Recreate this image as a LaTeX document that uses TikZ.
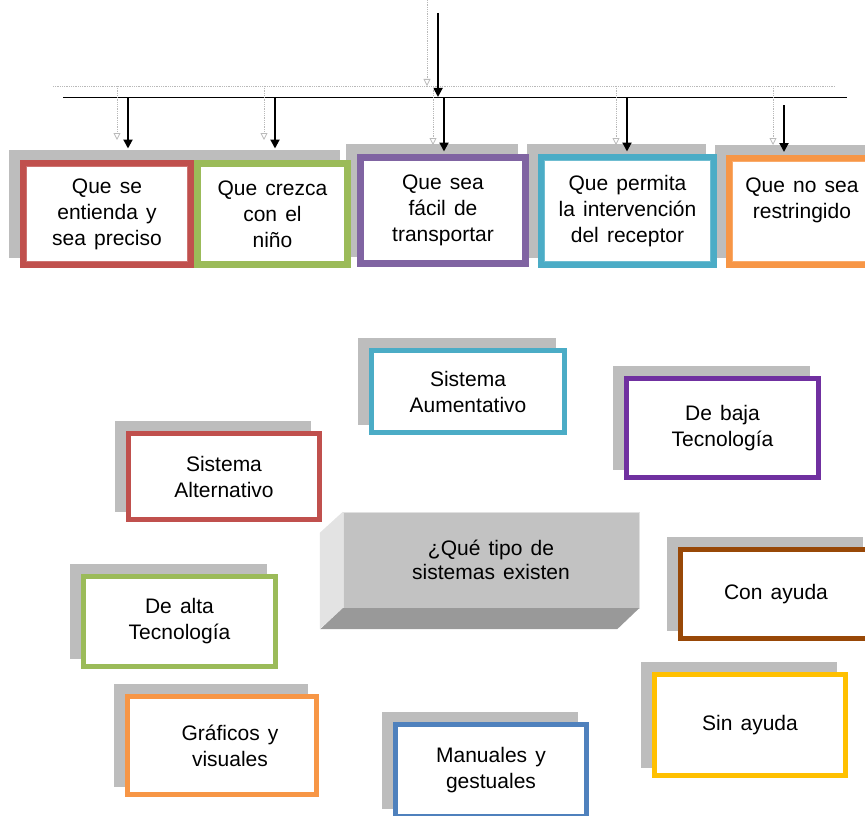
\documentclass[tikz,border=0pt]{standalone}
\usepackage{fontspec}
\setmainfont[WordSpace=1.4]{Liberation Sans}
\usetikzlibrary{arrows.meta,shadows}

\definecolor{rojo}{HTML}{C0504D}
\definecolor{verde}{HTML}{9BBB59}
\definecolor{lila}{HTML}{8064A2}
\definecolor{turquesa}{HTML}{4BACC6}
\definecolor{naranja}{HTML}{F79646}
\definecolor{morado}{HTML}{7030A0}
\definecolor{cafe}{HTML}{984807}
\definecolor{amarillo}{HTML}{FFC000}
\definecolor{azul}{HTML}{4F81BD}
\definecolor{sombra}{HTML}{BDBDBD}

\begin{document}
\begin{tikzpicture}[x = 1pt, y = -1pt, >={Triangle[length=9pt, width=9pt]},
    caja/.style = {draw = #1, fill = white, line width = 5pt, inner sep = 0pt, align = center,
        font = \fontsize{21}{26}\selectfont,
        general shadow = {shadow xshift = -11pt, shadow yshift = 10pt, fill = sombra, draw = sombra}},
    cajasup/.style = {caja = #1, line width = 7pt},
    tam/.style 2 args = {minimum width = #1pt, minimum height = #2pt},
    flecha/.style = {->, line width = 2pt},
    fantasma/.style = {-{Triangle[open, length=7pt, width=7pt]}, gray!55, densely dotted, line width = 0.8pt}]

    % Marco de la figura.
    \useasboundingbox (0, 0) rectangle (865, 816);

    % Línea de reparto y su sombra punteada.
    \coordinate (gl) at (53, 86);
    \coordinate (gr) at (835, 86);
    \coordinate (hl) at (63, 97);
    \coordinate (hr) at (847, 97);
    \draw[gray!55, densely dotted, line width = 0.8pt] (gl) -- (gr);
    \draw[line width = 0.8pt] (hl) -- (hr);

    % Flecha de entrada.
    \coordinate (arriba) at (438, 13);
    \draw[fantasma] (427, 0) -- (427, 86);
    \draw[flecha] (arriba) -- (arriba |- hl);

    % Cajas de arriba: cualidades (de derecha a izquierda, para que cada sombra quede detrás).
    \node[cajasup = naranja, tam = {145}{106}] (t5) at (802, 211.5) {Que no sea\\restringido\\\mbox{}};
    \node[cajasup = turquesa, tam = {172}{107}] (t4) at (627.5, 211) {Que permita\\la intervención\\del receptor};
    \node[cajasup = lila, tam = {165}{106}] (t3) at (443, 210.5) {Que sea\\fácil de\\transportar};
    \node[cajasup = verde, tam = {150}{101}] (t2) at (272.5, 214) {Que crezca\\con el\\niño};
    \node[cajasup = rojo, tam = {167}{101}] (t1) at (107, 214) {Que se\\entienda y\\sea preciso};

    % Filete interior de algunas cajas.
    \foreach \n/\c in {t1/rojo, t4/turquesa, t5/naranja}
        \draw[\c!80, line width = 0.8pt] ([shift = {(6.5, 6.5)}]\n.north west) rectangle ([shift = {(-6.5, -6.5)}]\n.south east);

    % Flechas hacia las cajas (y sus sombras).
    \foreach \x/\y in {117/140, 264/140, 433/145, 616/145, 773/145}
        \draw[fantasma] (\x, 86) -- (\x, \y);
    \foreach \n/\x/\y/\s in {t1/128/97/11.5pt, t2/275/97/11.5pt, t3/444/97/2.5pt, t4/627/97/2.5pt, t5/784/105/3pt} {
        \coordinate (a\n) at (\x, \y);
        \draw[flecha, shorten > = \s] (a\n) -- (a\n |- \n.north);
    }

    % Pregunta central en forma de bloque.
    \node[fill = black!24, draw = black!12, inner sep = 0pt, minimum width = 296pt, minimum height = 96pt,
        align = center, font = \fontsize{21}{24}\selectfont] (q) at (491, 560) {¿Qué tipo de\\sistemas existen};
    \fill[black!11] (q.north west) -- ++(-23, 21) -- ++(0, 96) -- (q.south west) -- cycle;
    \fill[black!40] (q.south west) -- (q.south east) -- ++(-22, 21) -- ++(-297, 0) -- cycle;

    % Tipos de sistemas.
    \node[caja = turquesa, tam = {193}{82}] (aum) at (468, 391.5) {Sistema\\Aumentativo};
    \node[caja = morado, tam = {192}{99}] (baja) at (722.5, 428) {De baja\\Tecnología};
    \node[caja = rojo, tam = {191}{86}] (alt) at (224, 476.5) {Sistema\\Alternativo};
    \node[caja = verde, tam = {192}{90}] (alta) at (179.5, 621.5) {De alta\\Tecnología};
    \node[caja = cafe, tam = {191}{89}] (con) at (776, 594) {Con ayuda};
    \node[caja = amarillo, tam = {191}{101}] (sin) at (750, 725) {Sin ayuda};
    \node[caja = naranja, tam = {189}{98}] (graf) at (222, 745.5) {\hspace*{16pt}Gráficos y\\\hspace*{16pt}visuales};
    \node[caja = azul, tam = {191}{92}] (man) at (491, 770.5) {Manuales y\\gestuales};

\end{tikzpicture}
\end{document}
